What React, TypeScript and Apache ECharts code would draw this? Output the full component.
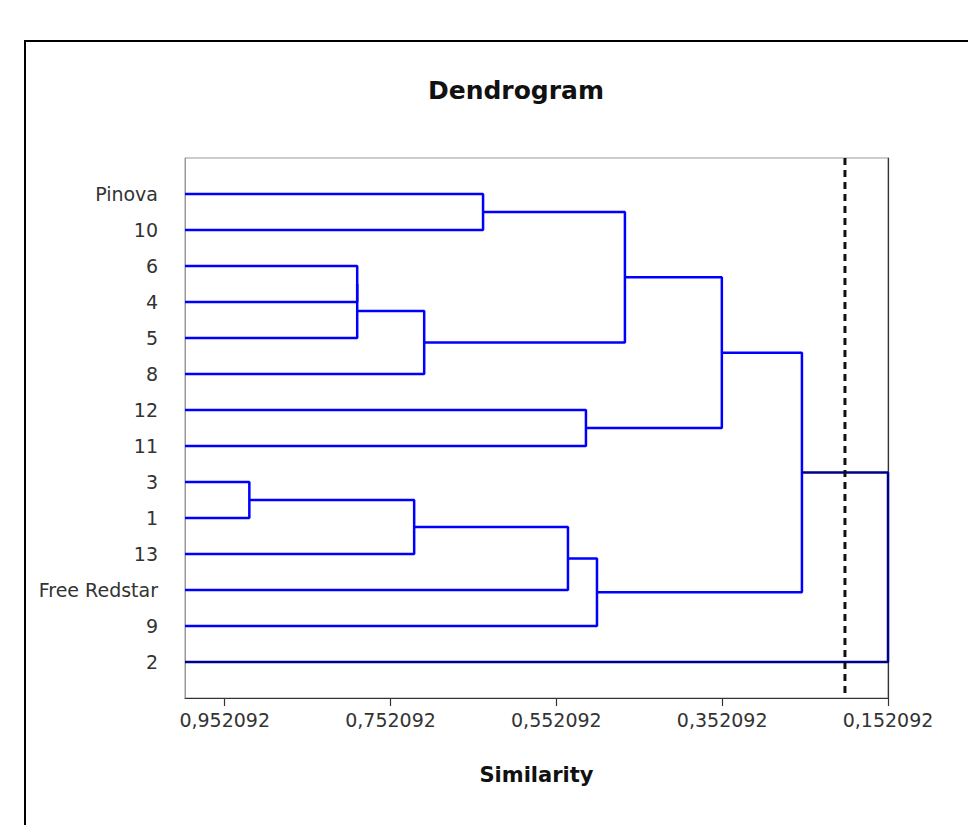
import React, { useEffect, useRef } from "react";
import * as echarts from "echarts";

// Leaf labels, top to bottom
const leaves: string[] = [
  "Pinova", "10", "6", "4", "5", "8", "12", "11", "3", "1", "13", "Free Redstar", "9", "2",
];

// Merges: child A, child B (leaf index, or leaves.length + merge index), similarity level
const mergeA: number[] = [0, 2, 15, 16, 14, 6, 18, 8, 21, 22, 23, 20, 25];
const mergeB: number[] = [1, 3, 4, 5, 17, 7, 19, 9, 10, 11, 12, 24, 13];
const mergeLevel: number[] = [
  0.6405, 0.7923, 0.7923, 0.7115, 0.4694, 0.5164, 0.3525, 0.9224, 0.7236, 0.5381, 0.5031, 0.2559, 0.152092,
];

const tickValues: number[] = [0.952092, 0.752092, 0.552092, 0.352092, 0.152092];
const cutLevel = 0.204;
const axisMin = 0.152092;
const axisMax = 1.0;

const FONT = "DejaVu Sans";

export default function App() {
  const ref = useRef<HTMLDivElement>(null);

  useEffect(() => {
    if (!ref.current) return;
    const chart = echarts.init(ref.current, undefined, { renderer: "svg" });

    const n = leaves.length;
    const posY: number[] = leaves.map((_, i) => i);
    const height: number[] = leaves.map(() => axisMax);
    const series: any[] = [];
    for (let m = 0; m < mergeA.length; m++) {
      const a = mergeA[m];
      const b = mergeB[m];
      const h = mergeLevel[m];
      const ya = posY[a];
      const yb = posY[b];
      posY.push((ya + yb) / 2);
      height.push(h);
      const last = m === mergeA.length - 1;
      series.push({
        type: "line",
        symbol: "none",
        silent: true,
        clip: false,
        z: last ? 3 : 2,
        lineStyle: { color: last ? "#00008c" : "#0000ff", width: 2.5 },
        data: [
          [height[a], ya],
          [h, ya],
          [h, yb],
          [height[b], yb],
        ],
      });
    }
    series.push({
      type: "line",
      symbol: "none",
      silent: true,
      z: 4,
      lineStyle: { color: "#111", width: 3, type: [7, 5] },
      data: [
        [cutLevel, -1],
        [cutLevel, n],
      ],
    });

    chart.setOption({
      animation: false,
      backgroundColor: "#fff",
      grid: {
        left: 185,
        right: 80,
        top: 158,
        bottom: 127,
        show: true,
        borderColor: "#999",
        borderWidth: 1,
      },
      xAxis: {
        type: "value",
        inverse: true,
        min: axisMin,
        max: axisMax,
        name: "Similarity",
        nameLocation: "middle",
        nameGap: 66,
        nameTextStyle: { fontFamily: FONT, fontSize: 21, fontWeight: "bold", color: "#111" },
        splitLine: { show: false },
        axisLine: { show: true, onZero: false, lineStyle: { color: "#333", width: 1.2 } },
        axisTick: {
          show: true,
          length: 8,
          customValues: tickValues,
          lineStyle: { color: "#333", width: 1.2 },
        },
        axisLabel: {
          customValues: tickValues,
          margin: 12,
          fontFamily: FONT,
          fontSize: 19,
          color: "#333",
          formatter: (v: number) => v.toFixed(6).replace(".", ","),
        },
      },
      yAxis: [
        {
          type: "value",
          inverse: true,
          min: -1,
          max: n,
          splitLine: { show: false },
          axisLine: { show: true, onZero: false, lineStyle: { color: "#999", width: 1 } },
          axisTick: { show: false },
          axisLabel: {
            customValues: leaves.map((_, i) => i),
            margin: 27,
            fontFamily: FONT,
            fontSize: 19,
            color: "#333",
            formatter: (v: number) => leaves[Math.round(v)] ?? "",
          },
        },
        {
          type: "value",
          position: "right",
          inverse: true,
          min: -1,
          max: n,
          splitLine: { show: false },
          axisLine: { show: true, onZero: false, lineStyle: { color: "#333", width: 1.2 } },
          axisTick: { show: false },
          axisLabel: { show: false },
        },
      ],
      graphic: [
        {
          type: "rect",
          shape: { x: 25, y: 41, width: 2000, height: 2000 },
          style: { fill: "none", stroke: "#000", lineWidth: 2 },
          silent: true,
        },
        {
          type: "text",
          x: 516,
          y: 90,
          style: {
            text: "Dendrogram",
            fontFamily: FONT,
            fontSize: 25,
            fontWeight: "bold",
            fill: "#111",
            textAlign: "center",
            textVerticalAlign: "middle",
          },
        },
      ],
      series,
    });

    return () => chart.dispose();
  }, []);

  return (
    <div
      ref={ref}
      style={{ position: "fixed", left: 0, top: 0, width: 968, height: 825 }}
    />
  );
}
